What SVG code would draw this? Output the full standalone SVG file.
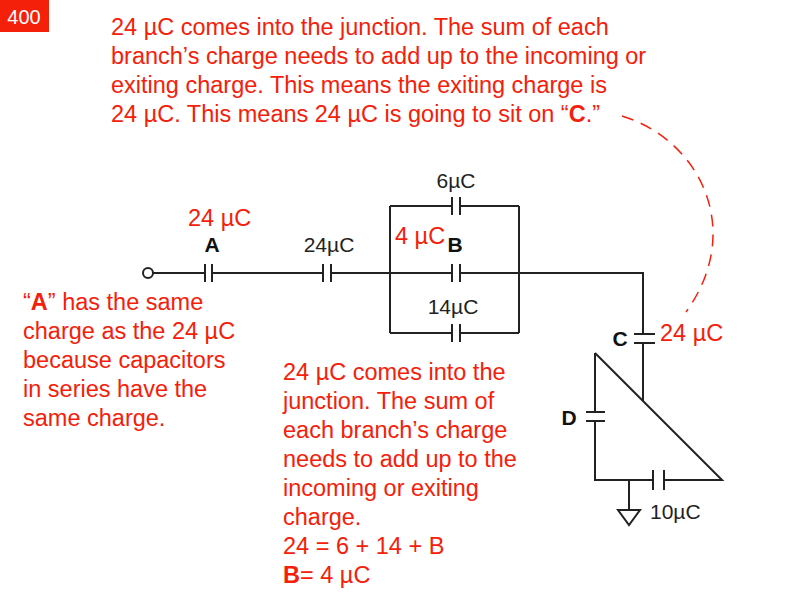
<svg xmlns="http://www.w3.org/2000/svg" width="800" height="600" viewBox="0 0 800 600">
<style>
.w{stroke:#222;stroke-width:2;fill:none}
.r{fill:#f5200a;font-family:"Liberation Sans",Arial,sans-serif;font-size:23.5px}
.k{fill:#222;font-family:"Liberation Sans",Arial,sans-serif;font-size:21px}
.b{fill:#111;font-family:"Liberation Sans",Arial,sans-serif;font-size:21px;font-weight:bold}
</style>
<rect width="800" height="600" fill="#fff"/>
<g id="badge"><rect x="0" y="0" width="49" height="32" fill="#f5200a"/><text x="24" y="24" text-anchor="middle" font-family="Liberation Sans,sans-serif" font-size="20" fill="#fff">400</text></g>
<g id="connectors">
<path class="w" d="M153 273H205M212 273H323M331 273H452M460 273H643V334M643 343V401"/>
<path class="w" d="M390 206V333M519 206V333M390 206H452M460 206H519M390 333H452M460 333H519"/>
<path class="w" d="M595 353L722 480H664M653 480H595V421M595 412V353"/>
<path class="w" d="M629 480V510"/>
<path d="M622 116C700 140 745 230 686 312" fill="none" stroke="#f5200a" stroke-width="1.5" stroke-dasharray="12,8"/>
</g>
<g id="terminal"><circle cx="148" cy="273" r="5" class="w" fill="#fff"/></g>
<g id="capA" class="w"><path d="M205 264V282M212 264V282"/></g>
<g id="cap24" class="w"><path d="M323 264V282M331 264V282"/></g>
<g id="cap6" class="w"><path d="M452 197V215M460 197V215"/></g>
<g id="capB" class="w"><path d="M452 264V282M460 264V282"/></g>
<g id="cap14" class="w"><path d="M452 324V342M460 324V342"/></g>
<g id="capC" class="w"><path d="M634 334H655M634 343H655"/></g>
<g id="capD" class="w"><path d="M586 412H605M586 421H605"/></g>
<g id="cap10" class="w"><path d="M653 470V490M664 470V490"/></g>
<g id="ground"><path d="M618 510H640L629 525Z" class="w"/></g>
<g id="labels">
<text class="k" x="456" y="188" text-anchor="middle">6µC</text>
<text class="k" x="329" y="252" text-anchor="middle">24µC</text>
<text class="k" x="453" y="314" text-anchor="middle">14µC</text>
<text class="k" x="650" y="519">10µC</text>
<text class="b" x="212" y="252" text-anchor="middle">A</text>
<text class="b" x="455" y="252" text-anchor="middle">B</text>
<text class="b" x="620" y="346" text-anchor="middle">C</text>
<text class="b" x="569" y="425" text-anchor="middle">D</text>
<text class="r" x="188" y="226">24 µC</text>
<text class="r" x="395" y="244">4 µC</text>
<text class="r" x="660" y="341">24 µC</text>
</g>
<g id="notes" class="r">
<text x="111" y="35">24 µC comes into the junction. The sum of each</text>
<text x="111" y="64">branch’s charge needs to add up to the incoming or</text>
<text x="111" y="93">exiting charge. This means the exiting charge is</text>
<text x="111" y="122">24 µC. This means 24 µC is going to sit on “<tspan font-weight="bold">C</tspan>.”</text>
<text x="23" y="310">“<tspan font-weight="bold">A</tspan>” has the same</text>
<text x="23" y="339">charge as the 24 µC</text>
<text x="23" y="368">because capacitors</text>
<text x="23" y="397">in series have the</text>
<text x="23" y="426">same charge.</text>
<text x="283" y="380">24 µC comes into the</text>
<text x="283" y="409">junction. The sum of</text>
<text x="283" y="438">each branch’s charge</text>
<text x="283" y="467">needs to add up to the</text>
<text x="283" y="496">incoming or exiting</text>
<text x="283" y="525">charge.</text>
<text x="283" y="554">24 = 6 + 14 + B</text>
<text x="283" y="583"><tspan font-weight="bold">B</tspan>= 4 µC</text>
</g>
</svg>
